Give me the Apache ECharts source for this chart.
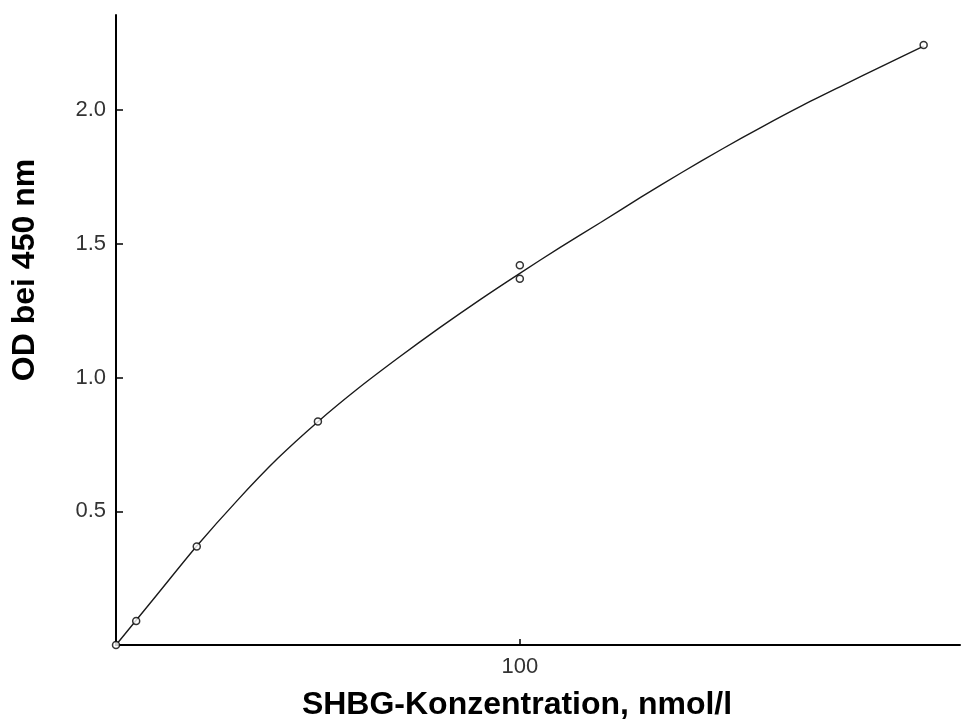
<!DOCTYPE html>
<html>
<head>
<meta charset="utf-8">
<script src="https://cdn.jsdelivr.net/npm/echarts@6/dist/echarts.min.js"></script>
<style>
html,body{margin:0;padding:0;background:#fff;}
#chart{width:962px;height:720px;}
</style>
</head>
<body>
<div id="chart"></div>
<script>
// Standard measurements (SHBG nmol/l vs OD at 450 nm)
const stdX = [0, 5, 20, 50, 100, 100, 200];
const stdY = [0, 0.09, 0.368, 0.836, 1.42, 1.37, 2.244];

// Fitted calibration curve, every 10 nmol/l
const curveX = [0, 10, 20, 30, 40, 50, 60, 70, 80, 90, 100, 110, 120, 130, 140, 150, 160, 170, 180, 190, 200];
const curveY = [0, 0.185, 0.37, 0.54, 0.697, 0.835, 0.96, 1.075, 1.185, 1.29, 1.39, 1.487, 1.58, 1.675, 1.766, 1.854, 1.938, 2.018, 2.093, 2.167, 2.24];

// Tick labels
const xTicks = [100];
const yTicks = [0.5, 1.0, 1.5, 2.0];

const xTitle = 'SHBG-Konzentration, nmol/l';
const yTitle = 'OD bei 450 nm';

const chart = echarts.init(document.getElementById('chart'), null, {renderer: 'canvas'});

const option = {
  backgroundColor: '#ffffff',
  animation: false,
  grid: {left: 116, top: 15, right: 2, bottom: 75},
  xAxis: {
    type: 'value', min: 0, max: 209,
    splitLine: {show: false},
    axisLine: {show: true, onZero: false, lineStyle: {color: '#000', width: 2}},
    axisTick: {show: true, inside: true, length: 6, customValues: xTicks, lineStyle: {color: '#000', width: 1.5}},
    axisLabel: {show: true, customValues: xTicks, margin: 11, color: '#333',
      fontFamily: 'Liberation Sans, Arial, sans-serif', fontSize: 22}
  },
  yAxis: {
    type: 'value', min: 0, max: 2.356,
    splitLine: {show: false},
    axisLine: {show: true, onZero: false, lineStyle: {color: '#000', width: 2}},
    axisTick: {show: true, inside: true, length: 7, customValues: yTicks, lineStyle: {color: '#000', width: 1.5}},
    axisLabel: {show: true, customValues: yTicks, margin: 10, color: '#333',
      fontFamily: 'Liberation Sans, Arial, sans-serif', fontSize: 22,
      formatter: v => Number(v).toFixed(1)}
  },
  graphic: [
    {type: 'text', x: 517, y: 705,
      style: {text: xTitle, fill: '#000', font: 'bold 32px "Liberation Sans", Arial, sans-serif',
        align: 'center', verticalAlign: 'middle'}},
    {type: 'text', x: 25, y: 270, rotation: Math.PI / 2,
      style: {text: yTitle, fill: '#000', font: 'bold 32px "Liberation Sans", Arial, sans-serif',
        align: 'center', verticalAlign: 'middle'}}
  ],
  series: [
    {
      type: 'line',
      data: curveX.map((x, i) => [x, curveY[i]]),
      smooth: 0.25,
      showSymbol: false,
      lineStyle: {color: '#1a1a1a', width: 1.4},
      z: 2
    },
    {
      type: 'scatter',
      data: stdX.map((x, i) => [x, stdY[i]]),
      symbol: 'circle',
      symbolSize: 7,
      clip: false,
      itemStyle: {color: '#fff', borderColor: '#000', borderWidth: 1.5},
      z: 3
    }
  ]
};
chart.setOption(option);
</script>
</body>
</html>
